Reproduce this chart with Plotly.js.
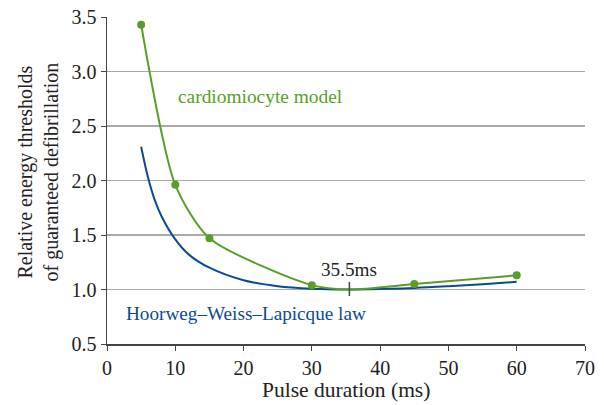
<!DOCTYPE html>
<html>
<head>
<meta charset="utf-8">
<script src="https://cdn.plot.ly/plotly-3.0.1.min.js"></script>
<style>html,body{margin:0;padding:0;background:#fff}#chart{width:604px;height:405px}</style>
</head>
<body>
<div id="chart"></div>
<script>
// Cardiomyocyte model: measured points
var modelX = [5, 10, 15, 30, 45, 60];
var modelY = [3.43, 1.96, 1.47, 1.04, 1.05, 1.13];
// Cardiomyocyte model curve (passes through minimum at 35.5 ms)
var modelCurveX = [5, 10, 15, 30, 35.5, 45, 60];
var modelCurveY = [3.43, 1.96, 1.47, 1.04, 1.0, 1.05, 1.13];
// Hoorweg–Weiss–Lapicque law curve
var hwlX = [5, 6, 7, 8, 10, 12, 15, 20, 25, 30, 35.5, 40, 45, 50, 55, 60];
var hwlY = [2.31, 2.03, 1.82, 1.67, 1.46, 1.32, 1.20, 1.085, 1.03, 1.007, 1.0, 1.004, 1.014, 1.03, 1.049, 1.07];
var minX = 35.5, minY = 1.0;
var xTicks = [0, 10, 20, 30, 40, 50, 60, 70];
var yTicks = [0.5, 1.0, 1.5, 2.0, 2.5, 3.0, 3.5];

var green = '#5a9e2a', blue = '#0b4b94';
var font = '"Liberation Serif", serif';

var traces = [
  {x: hwlX, y: hwlY, mode: 'lines', line: {color: blue, width: 2, shape: 'spline', smoothing: 1}, hoverinfo: 'skip'},
  {x: modelCurveX, y: modelCurveY, mode: 'lines', line: {color: green, width: 2, shape: 'spline', smoothing: 0.7}, hoverinfo: 'skip'},
  {x: modelX, y: modelY, mode: 'markers', marker: {color: green, size: 8}}
];

var layout = {
  width: 604, height: 405,
  margin: {l: 107, r: 19, t: 17, b: 61},
  showlegend: false,
  paper_bgcolor: '#fff', plot_bgcolor: '#fff',
  font: {family: font, size: 20, color: '#222'},
  xaxis: {
    range: [0, 70], tickvals: xTicks, ticktext: xTicks.map(String),
    ticks: 'outside', ticklen: 5, tickcolor: '#444', showgrid: false,
    showline: true, linecolor: '#444', linewidth: 1.5, zeroline: false,
    tickfont: {family: font, size: 20, color: '#222'}
  },
  yaxis: {
    range: [0.5, 3.5], tickvals: yTicks, ticktext: yTicks.map(function(v){return v.toFixed(1);}),
    ticks: 'outside', ticklen: 5, tickcolor: '#444',
    showgrid: true, gridcolor: '#aaaaaa', gridwidth: 1.3,
    showline: true, linecolor: '#444', linewidth: 1.5, zeroline: false,
    tickfont: {family: font, size: 20, color: '#222'}
  },
  shapes: [
    {type: 'line', xref: 'x', yref: 'y', x0: minX, x1: minX, y0: minY - 0.06, y1: minY + 0.07, line: {color: '#444', width: 1.5}}
  ],
  annotations: [
    {x: 0.5, y: -0.1407, xref: 'paper', yref: 'paper', xanchor: 'center', yanchor: 'middle', text: 'Pulse duration (ms)', showarrow: false, font: {family: font, size: 21.5, color: '#222'}},
    {x: -0.1433, y: 0.526, xref: 'paper', yref: 'paper', xanchor: 'center', yanchor: 'middle', textangle: -90, text: 'Relative energy thresholds<br>of guaranteed defibrillation', showarrow: false, font: {family: font, size: 20, color: '#222'}},
    {x: 22.4, y: 2.77, xref: 'x', yref: 'y', text: 'cardiomiocyte model', showarrow: false, font: {family: font, size: 19.4, color: green}},
    {x: 20.3, y: 0.78, xref: 'x', yref: 'y', text: 'Hoorweg–Weiss–Lapicque law', showarrow: false, font: {family: font, size: 19.2, color: blue}},
    {x: minX, y: 1.18, xref: 'x', yref: 'y', text: minX + 'ms', showarrow: false, font: {family: font, size: 19.2, color: '#222'}}
  ]
};

Plotly.newPlot('chart', traces, layout, {displayModeBar: false, staticPlot: true});
</script>
</body>
</html>
